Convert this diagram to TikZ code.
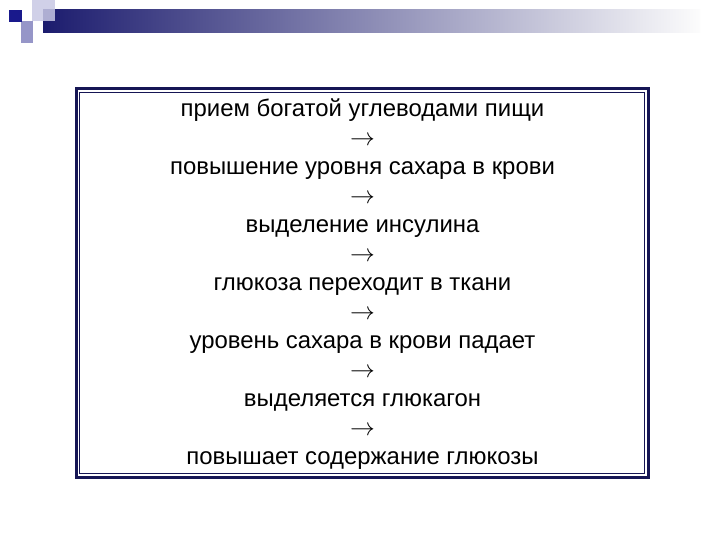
\documentclass[tikz,border=0pt]{standalone}
\usepackage{fontspec}
\setmainfont{Liberation Sans}
\definecolor{framec}{RGB}{22,22,85}
\definecolor{darksq}{RGB}{25,25,140}
\definecolor{lightsq}{RGB}{200,200,228}
\definecolor{medsq}{RGB}{150,150,200}
\definecolor{barL}{RGB}{28,28,110}
\definecolor{barM}{RGB}{168,168,192}
\definecolor{barR}{RGB}{252,252,252}
\begin{document}
\begin{tikzpicture}[x=1bp,y=-1bp,
  line/.style={anchor=base,inner sep=0pt,font=\fontsize{24}{29}\selectfont,text=black},
  arr/.style={line}]
\useasboundingbox (0,0) rectangle (720,540);
\fill[white] (0,0) rectangle (720,540);
% top decoration
\shade[left color=barL,middle color=barM,right color=barR,shading angle=90] (43,10) rectangle (700,33);
\fill[lightsq,opacity=0.85] (32,0) rectangle (55,21);
\fill[medsq] (21,21) rectangle (33,43);
\fill[darksq] (9,10) rectangle (22,22);
% frame
\draw[framec,line width=3bp] (76,88.7) rectangle (648.3,477);
\draw[framec,line width=1.2bp] (79.5,92.3) rectangle (644.5,473.2);
% text
\node[line] (l0) at (362.5,116.5) {прием богатой углеводами пищи};
\node[arr]  (l1) at (362.5,145.5) {$\rightarrow$};
\node[line] (l2) at (362.5,174.4) {повышение уровня сахара в крови};
\node[arr]  (l3) at (362.5,203.4) {$\rightarrow$};
\node[line] (l4) at (362.5,232.3) {выделение инсулина};
\node[arr]  (l5) at (362.5,261.3) {$\rightarrow$};
\node[line] (l6) at (362.5,290.3) {глюкоза переходит в ткани};
\node[arr]  (l7) at (362.5,319.2) {$\rightarrow$};
\node[line] (l8) at (362.5,348.2) {уровень сахара в крови падает};
\node[arr]  (l9) at (362.5,377.1) {$\rightarrow$};
\node[line] (l10) at (362.5,406.1) {выделяется глюкагон};
\node[arr]  (l11) at (362.5,435.0) {$\rightarrow$};
\node[line] (l12) at (362.5,464.0) {повышает содержание глюкозы};
\end{tikzpicture}
\end{document}
